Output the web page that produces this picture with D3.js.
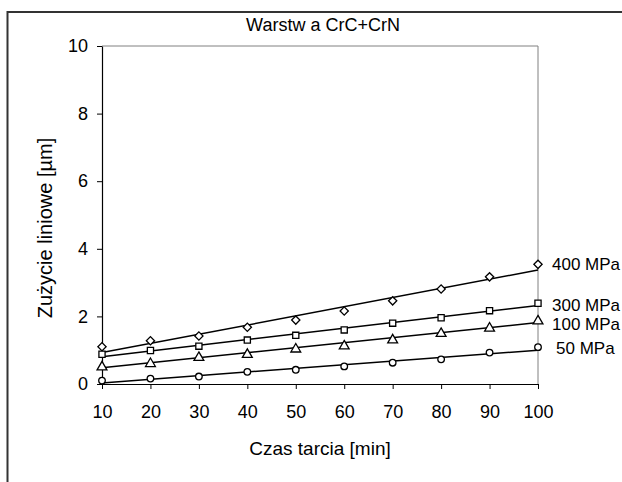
<!DOCTYPE html>
<html>
<head>
<meta charset="utf-8">
<script src="https://cdn.jsdelivr.net/npm/d3@7"></script>
<style>
  body { margin: 0; background: #fff; }
  svg text { font-family: "Liberation Sans", Arial, sans-serif; fill: #000; }
</style>
</head>
<body>
<div id="chart"></div>
<script>
// data
var times = [10, 20, 30, 40, 50, 60, 70, 80, 90, 100];
var xTicks = [10, 20, 30, 40, 50, 60, 70, 80, 90, 100];
var yTicks = [0, 2, 4, 6, 8, 10];

var s400 = [1.10, 1.28, 1.42, 1.68, 1.89, 2.16, 2.46, 2.81, 3.17, 3.54];
var s300 = [0.88, 0.99, 1.12, 1.30, 1.44, 1.60, 1.80, 1.96, 2.17, 2.39];
var s100 = [0.53, 0.63, 0.81, 0.90, 1.06, 1.15, 1.33, 1.52, 1.68, 1.89];
var s50  = [0.10, 0.16, 0.22, 0.36, 0.42, 0.52, 0.63, 0.73, 0.93, 1.09];

var seriesNames = ['400 MPa', '300 MPa', '100 MPa', '50 MPa'];
var seriesData = [s400, s300, s100, s50];
var seriesShape = ['diamond', 'square', 'triangle', 'circle'];
var labelY = [264, 305, 324, 348];
var labelX = [552, 552, 552, 556];

var width = 622, height = 482;
var svg = d3.select('#chart').append('svg')
    .attr('width', width)
    .attr('height', height);

// outer frame (runs off the right and bottom edges)
svg.append('path')
    .attr('d', 'M7.5,' + height + 'V12H' + width)
    .attr('fill', 'none')
    .attr('stroke', '#333')
    .attr('stroke-width', 2);

var x = d3.scaleLinear().domain([10, 100]).range([102, 538]);
var y = d3.scaleLinear().domain([0, 10]).range([384, 46]);

// plot box top / right
svg.append('path')
    .attr('d', 'M' + x(10) + ',' + y(10) + 'H' + x(100) + 'V' + y(0))
    .attr('fill', 'none')
    .attr('stroke', '#808080')
    .attr('stroke-width', 1);

var xAxis = svg.append('g')
    .attr('transform', 'translate(0,' + y(0) + ')')
    .call(d3.axisBottom(x).tickValues(xTicks).tickSize(5).tickSizeOuter(0).tickPadding(16));
var yAxis = svg.append('g')
    .attr('transform', 'translate(' + x(10) + ',0)')
    .call(d3.axisLeft(y).tickValues(yTicks).tickSize(5).tickSizeOuter(0).tickPadding(9));

[xAxis, yAxis].forEach(function (a) {
    a.select('.domain').attr('stroke', '#000').attr('stroke-width', 1.2);
    a.selectAll('.tick line').attr('stroke', '#000').attr('stroke-width', 1);
    a.selectAll('.tick text')
        .attr('font-size', 18)
        .attr('font-family', '"Liberation Sans", Arial, sans-serif');
});

// linear trend lines (least squares, like the spreadsheet trendline)
function fit(ys) {
    var mx = d3.mean(times), my = d3.mean(ys);
    var num = d3.sum(times, function (t, i) { return (t - mx) * (ys[i] - my); });
    var den = d3.sum(times, function (t) { return (t - mx) * (t - mx); });
    var b = num / den;
    return { a: my - b * mx, b: b };
}

var line = d3.line()
    .x(function (d) { return x(d[0]); })
    .y(function (d) { return y(d[1]); });

function marker(kind) {
    if (kind === 'diamond') return d3.symbol().type(d3.symbolSquare).size(34)();
    if (kind === 'square') return d3.symbol().type(d3.symbolSquare).size(38)();
    if (kind === 'triangle') return d3.symbol().type(d3.symbolTriangle).size(42)();
    return d3.symbol().type(d3.symbolCircle).size(34)();
}

seriesData.forEach(function (ys, k) {
    var f = fit(ys);
    svg.append('path')
        .datum([[10, f.a + f.b * 10], [100, f.a + f.b * 100]])
        .attr('d', line)
        .attr('fill', 'none')
        .attr('stroke', '#000')
        .attr('stroke-width', 1.5);

    var kind = seriesShape[k];
    svg.append('g').selectAll('path')
        .data(ys)
        .enter().append('path')
        .attr('d', marker(kind))
        .attr('transform', function (d, i) {
            var dy = kind === 'triangle' ? 1 : 0;
            return 'translate(' + x(times[i]) + ',' + (y(d) + dy) + ')' +
                (kind === 'diamond' ? ' rotate(45)' : '');
        })
        .attr('fill', '#fff')
        .attr('stroke', '#000')
        .attr('stroke-width', 1.3);

    svg.append('text')
        .attr('x', labelX[k])
        .attr('y', labelY[k])
        .attr('dy', '0.35em')
        .attr('font-size', 17)
        .text(seriesNames[k]);
});

// title and axis titles
svg.append('text')
    .attr('x', 323)
    .attr('y', 31)
    .attr('text-anchor', 'middle')
    .attr('font-size', 18)
    .text('Warstw a CrC+CrN');

svg.append('text')
    .attr('transform', 'translate(52,228) rotate(-90)')
    .attr('text-anchor', 'middle')
    .attr('font-size', 20)
    .text('Zużycie liniowe [µm]');

svg.append('text')
    .attr('x', 320)
    .attr('y', 455)
    .attr('text-anchor', 'middle')
    .attr('font-size', 19)
    .text('Czas tarcia [min]');
</script>
</body>
</html>
